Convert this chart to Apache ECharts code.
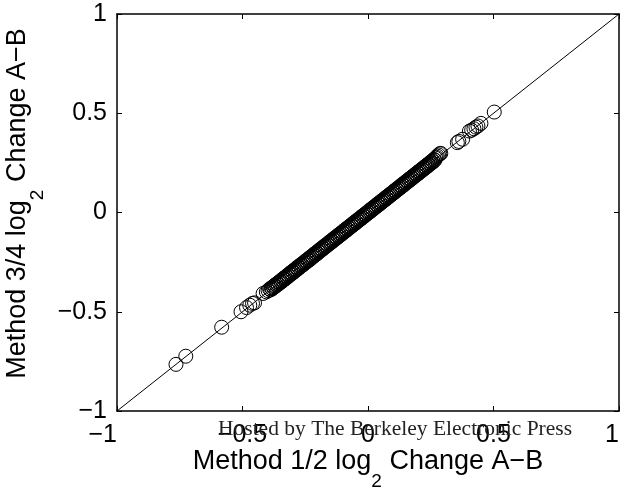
<!DOCTYPE html>
<html>
<head>
<meta charset="utf-8">
<script src="https://cdn.jsdelivr.net/npm/echarts@6/dist/echarts.min.js"></script>
<style>html,body{margin:0;padding:0;background:#fff;}#c{width:624px;height:488px;}</style>
</head>
<body>
<div id="c"></div>
<script>
// Tick values shared by both axes
var tickValues = [-1, -0.5, 0, 0.5, 1];

// Lower-end outlying points [Method 1/2, Method 3/4]
var lowPoints = [
  [-0.765,-0.765],[-0.726,-0.724],[-0.583,-0.578],[-0.506,-0.500],[-0.484,-0.479],
  [-0.471,-0.467],[-0.460,-0.458],[-0.452,-0.455],[-0.418,-0.408],[-0.405,-0.400],[-0.398,-0.394]
];

// Dense central band of points
var bandPoints = [
  [-0.392,-0.385],[-0.388,-0.390],[-0.385,-0.380],[-0.381,-0.384],[-0.378,-0.373],[-0.376,-0.379],[-0.373,-0.368],[-0.369,-0.372],[-0.367,-0.362],[-0.364,-0.367],
  [-0.361,-0.357],[-0.358,-0.362],[-0.355,-0.350],[-0.352,-0.356],[-0.349,-0.345],[-0.346,-0.350],[-0.343,-0.338],[-0.340,-0.345],[-0.337,-0.332],[-0.334,-0.337],
  [-0.331,-0.327],[-0.328,-0.333],[-0.325,-0.320],[-0.322,-0.326],[-0.319,-0.314],[-0.316,-0.321],[-0.313,-0.308],[-0.310,-0.313],[-0.307,-0.302],[-0.304,-0.309],
  [-0.301,-0.296],[-0.298,-0.302],[-0.295,-0.290],[-0.292,-0.297],[-0.289,-0.285],[-0.286,-0.289],[-0.283,-0.277],[-0.280,-0.285],[-0.277,-0.273],[-0.274,-0.278],
  [-0.271,-0.266],[-0.268,-0.272],[-0.265,-0.260],[-0.262,-0.266],[-0.259,-0.255],[-0.256,-0.261],[-0.253,-0.248],[-0.250,-0.254],[-0.247,-0.242],[-0.244,-0.249],
  [-0.241,-0.237],[-0.238,-0.242],[-0.235,-0.230],[-0.232,-0.238],[-0.229,-0.224],[-0.226,-0.230],[-0.223,-0.219],[-0.220,-0.225],[-0.217,-0.212],[-0.214,-0.218],
  [-0.211,-0.206],[-0.208,-0.212],[-0.205,-0.201],[-0.202,-0.207],[-0.199,-0.194],[-0.196,-0.200],[-0.193,-0.188],[-0.190,-0.194],[-0.187,-0.182],[-0.184,-0.188],
  [-0.181,-0.177],[-0.178,-0.182],[-0.175,-0.170],[-0.172,-0.176],[-0.169,-0.164],[-0.166,-0.170],[-0.163,-0.159],[-0.160,-0.164],[-0.157,-0.152],[-0.154,-0.158],
  [-0.151,-0.146],[-0.148,-0.152],[-0.145,-0.141],[-0.142,-0.146],[-0.139,-0.134],[-0.136,-0.140],[-0.133,-0.128],[-0.130,-0.134],[-0.127,-0.123],[-0.124,-0.128],
  [-0.121,-0.116],[-0.118,-0.122],[-0.115,-0.111],[-0.112,-0.116],[-0.109,-0.104],[-0.106,-0.110],[-0.103,-0.099],[-0.100,-0.104],[-0.097,-0.092],[-0.094,-0.098],
  [-0.091,-0.086],[-0.088,-0.092],[-0.085,-0.081],[-0.082,-0.086],[-0.079,-0.074],[-0.076,-0.080],[-0.073,-0.069],[-0.070,-0.074],[-0.067,-0.062],[-0.064,-0.068],
  [-0.061,-0.057],[-0.058,-0.062],[-0.055,-0.050],[-0.052,-0.056],[-0.049,-0.045],[-0.046,-0.050],[-0.043,-0.038],[-0.040,-0.044],[-0.037,-0.033],[-0.034,-0.038],
  [-0.031,-0.026],[-0.028,-0.032],[-0.025,-0.021],[-0.022,-0.026],[-0.019,-0.014],[-0.016,-0.020],[-0.013,-0.009],[-0.010,-0.014],[-0.007,-0.002],[-0.004,-0.008],
  [-0.001,0.003],[0.002,-0.002],[0.005,0.010],[0.008,0.004],[0.011,0.015],[0.014,0.010],[0.017,0.022],[0.020,0.016],[0.023,0.027],[0.026,0.022],
  [0.029,0.034],[0.032,0.028],[0.035,0.039],[0.038,0.034],[0.041,0.046],[0.044,0.040],[0.047,0.051],[0.050,0.046],[0.053,0.058],[0.056,0.052],
  [0.059,0.063],[0.062,0.058],[0.065,0.070],[0.068,0.064],[0.071,0.075],[0.074,0.070],[0.077,0.082],[0.080,0.076],[0.083,0.087],[0.086,0.082],
  [0.089,0.094],[0.092,0.088],[0.095,0.099],[0.098,0.094],[0.101,0.106],[0.104,0.100],[0.107,0.111],[0.110,0.106],[0.113,0.118],[0.116,0.112],
  [0.119,0.123],[0.122,0.118],[0.125,0.130],[0.128,0.124],[0.131,0.135],[0.134,0.130],[0.137,0.142],[0.140,0.136],[0.143,0.147],[0.146,0.142],
  [0.149,0.154],[0.152,0.148],[0.155,0.159],[0.158,0.154],[0.161,0.166],[0.164,0.160],[0.167,0.171],[0.170,0.166],[0.173,0.178],[0.176,0.172],
  [0.179,0.183],[0.182,0.178],[0.185,0.190],[0.188,0.184],[0.191,0.195],[0.194,0.190],[0.197,0.202],[0.200,0.196],[0.203,0.207],[0.206,0.202],
  [0.209,0.214],[0.212,0.208],[0.215,0.219],[0.218,0.214],[0.221,0.226],[0.224,0.220],[0.227,0.231],[0.230,0.226],[0.233,0.238],[0.236,0.232],
  [0.239,0.243],[0.242,0.238],[0.245,0.250],[0.248,0.244],[0.251,0.256],[0.254,0.250],[0.257,0.262],[0.260,0.256],[0.263,0.268],[0.266,0.263],
  [0.269,0.274],[0.272,0.278]
];

// Upper-end outlying points
var highPoints = [
  [0.276,0.284],[0.281,0.290],[0.286,0.296],[0.290,0.298],[0.356,0.352],[0.362,0.358],[0.377,0.369],
  [0.404,0.410],[0.413,0.415],[0.422,0.422],[0.430,0.430],[0.438,0.436],[0.450,0.449],[0.503,0.506]
];

// Identity reference line endpoints
var identityLine = [[-1,-1],[1,1]];

var xName = 'Method 1/2 log';
var yName = 'Method 3/4 log';
var nameTail = ' Change A\u2212B';
var watermark = 'Hosted by The Berkeley Electronic Press';

var FONT = '"Liberation Sans", Arial, sans-serif';
function fmt(v){ return String(v).replace('-', '\u2212'); }

var nameRich = {
  n: {fontSize: 27, fontFamily: FONT, color: '#000', lineHeight: 43, verticalAlign: 'top'},
  s: {fontSize: 19, fontFamily: FONT, color: '#000', lineHeight: 18, verticalAlign: 'bottom'}
};

function axisBase(pos, showLabels){
  return {
    type: 'value', min: -1, max: 1, interval: 0.5, position: pos,
    axisLine: {show: true, onZero: false, lineStyle: {color: '#000', width: 1.5}},
    axisTick: {show: true, inside: true, length: 5, lineStyle: {color: '#000', width: 1}},
    axisLabel: {show: showLabels, formatter: fmt, color: '#000', fontSize: 25, fontFamily: FONT, margin: 12},
    splitLine: {show: false}
  };
}

var xBottom = axisBase('bottom', true);
xBottom.axisLabel.alignMinLabel = 'right';
xBottom.axisLabel.alignMaxLabel = 'right';
xBottom.name = '{n|' + xName + '}{s|2}{n|' + nameTail + '}';
xBottom.nameLocation = 'middle';
xBottom.nameGap = 37;
xBottom.nameMoveOverlap = false;
xBottom.nameTextStyle = {rich: nameRich};
var xTop = axisBase('top', false);

var yLeft = axisBase('left', true);
yLeft.axisLabel.margin = 10;
yLeft.name = '{n|' + yName + '}{s|2}{n|' + nameTail + '}';
yLeft.nameLocation = 'middle';
yLeft.nameGap = 70;
yLeft.nameMoveOverlap = false;
yLeft.nameTextStyle = {rich: nameRich, padding: [0, 0, 0, 18]};
var yRight = axisBase('right', false);

var chart = echarts.init(document.getElementById('c'), null, {renderer: 'canvas'});
chart.setOption({
  animation: false,
  backgroundColor: '#fff',
  grid: {left: 117, right: 5, top: 14, bottom: 77, containLabel: false, outerBoundsMode: 'none'},
  xAxis: [xBottom, xTop],
  yAxis: [yLeft, yRight],
  series: [
    {type: 'line', xAxisIndex: 0, yAxisIndex: 0, data: identityLine, symbol: 'none',
     lineStyle: {color: '#000', width: 1}, silent: true, z: 1},
    {type: 'scatter', xAxisIndex: 0, yAxisIndex: 0, data: lowPoints.concat(bandPoints, highPoints),
     symbol: 'circle', symbolSize: 14, large: false, silent: true,
     itemStyle: {color: 'rgba(0,0,0,0)', borderColor: '#000', borderWidth: 1, opacity: 1}, z: 2}
  ],
  graphic: [{
    type: 'text', left: 218, top: 418, silent: true, z: 100,
    style: {text: watermark, fontSize: 21.5, fontFamily: '"Liberation Serif", "DejaVu Serif", serif', fill: '#222'}
  }]
});
</script>
</body>
</html>
